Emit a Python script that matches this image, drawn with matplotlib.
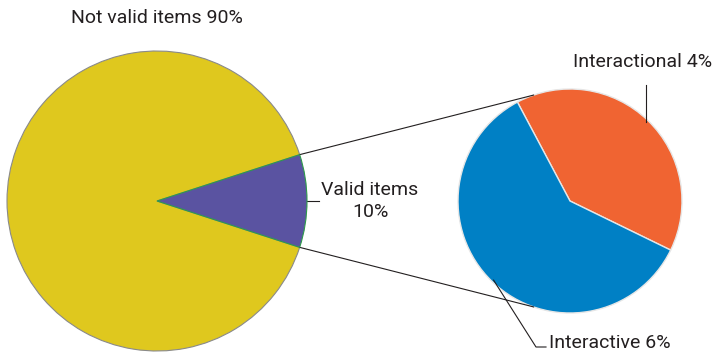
import numpy as np
import matplotlib
matplotlib.use("Agg")
import matplotlib.pyplot as plt

# main split of the items
main_labels = ["Valid items\n10%", "Not valid items 90%"]
main_values = [10, 90]

# breakdown of the valid items
sub_labels = ["Interactional 4%", "Interactive 6%"]
sub_values = [4, 6]

c_valid = "#5A53A1"
c_notvalid = "#DFC81E"
c_interactional = "#F06432"
c_interactive = "#0080C5"

W, H = 715, 355
fig = plt.figure(figsize=(W / 100, H / 100), dpi=100)
ax = fig.add_axes([0, 0, 1, 1])
ax.set_xlim(0, W)
ax.set_ylim(0, H)
ax.set_aspect("equal")
ax.axis("off")

font = dict(family="Roboto", fontsize=14, color="#231F20")

# left pie
c1, r1 = (157, 154), 150
start1 = -18
w1, _ = ax.pie(main_values, colors=[c_valid, c_notvalid], startangle=start1,
               center=c1, radius=r1, frame=True,
               wedgeprops=dict(linewidth=0.8, edgecolor="#8a8a8a"))
w1[0].set_edgecolor("#2e9a4a")
w1[0].set_zorder(3)

# right pie
c2, r2 = (570, 154), 112
start2 = -26
w2, _ = ax.pie(sub_values, colors=[c_interactional, c_interactive], startangle=start2,
               center=c2, radius=r2, frame=True,
               wedgeprops=dict(linewidth=1.0, edgecolor="#e6e6e6"))

ax.set_xlim(0, W)
ax.set_ylim(0, H)
ax.axis("off")


def pt(c, r, ang):
    a = np.radians(ang)
    return c[0] + r * np.cos(a), c[1] + r * np.sin(a)


# connector lines between the pies
half = 360 * main_values[0] / sum(main_values) / 2
for s in (1, -1):
    x0, y0 = pt(c1, r1, s * half)
    x1, y1 = pt(c2, r2, s * 109)
    ax.plot([x0, x1], [y0, y1], color="#231F20", lw=0.8, zorder=1)

# label for the valid slice
x0, y0 = pt(c1, r1, start1 + half)
ax.plot([x0, x0 + 12], [y0, y0], color="#231F20", lw=0.8)
ax.text(370, 154, main_labels[0], ha="center", va="center",
        linespacing=1.25, **font)

ax.text(157, 337, main_labels[1], ha="center", va="center", **font)

# labels for the breakdown
tot = sum(sub_values)
mid_a = start2 + 360 * sub_values[0] / tot / 2
mid_b = start2 + 360 * sub_values[0] / tot + 360 * sub_values[1] / tot / 2
xa, ya = pt(c2, r2 - 2, mid_a)
ax.plot([xa, xa], [ya, 270], color="#231F20", lw=0.8)
ax.text(712, 293, sub_labels[0], ha="right", va="center", **font)

xb, yb = pt(c2, r2 - 2, mid_b)
ax.plot([xb, 536, 546], [yb, 8, 8], color="#231F20", lw=0.8)
ax.text(549, 12, sub_labels[1], ha="left", va="center", **font)

fig.savefig("out.png", dpi=100, facecolor="white")
